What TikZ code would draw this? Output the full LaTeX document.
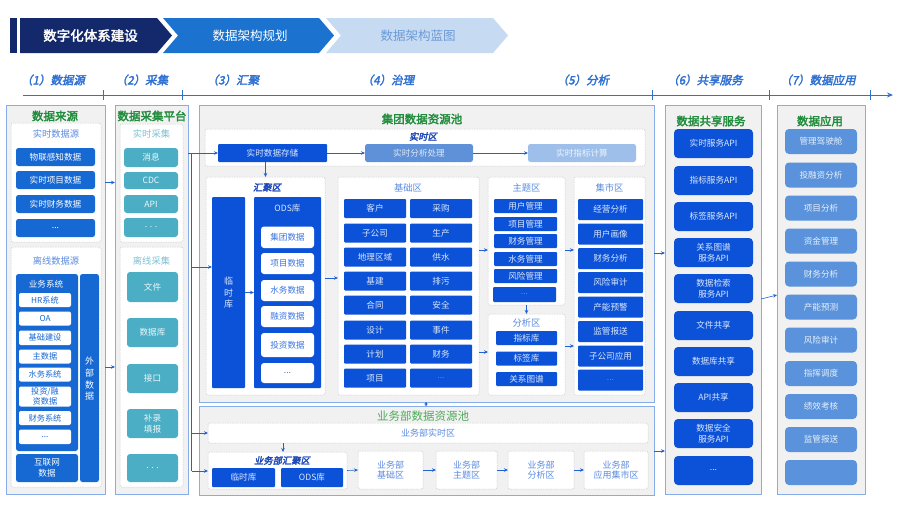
\documentclass[tikz,border=0pt]{standalone}
\usepackage{fontspec}
\setmainfont{Noto Sans CJK SC}[AutoFakeBold=2.5,AutoFakeSlant=0.2]
\usetikzlibrary{arrows.meta,calc}
\definecolor{navy}{HTML}{13296C}
\definecolor{midb}{HTML}{1B73CF}
\definecolor{lightchev}{HTML}{C6DAF2}
\definecolor{lightchevtext}{HTML}{6A9AD8}
\definecolor{axisb}{HTML}{2F70D2}
\definecolor{pborder}{HTML}{86ADEA}
\definecolor{pfill}{HTML}{F1F1F1}
\definecolor{zoneb}{HTML}{CCCCCC}
\definecolor{gtitle}{HTML}{1F8C3B}
\definecolor{gtitlelight}{HTML}{4DAA5A}
\definecolor{ztitle}{HTML}{5B8BE0}
\definecolor{tztitle}{HTML}{7EC0D3}
\definecolor{srcb}{HTML}{1668D2}
\definecolor{tealb}{HTML}{4BAEC5}
\definecolor{vivb}{HTML}{0B52D8}
\definecolor{appb}{HTML}{5A93DB}
\definecolor{anab}{HTML}{5E91D8}
\definecolor{idxb}{HTML}{9DBFE9}
\definecolor{boxtext}{HTML}{DDE7FA}
\definecolor{arrowb}{HTML}{2161D4}
\definecolor{ittitle}{HTML}{1E48B8}
\definecolor{odstext}{HTML}{3B74E0}
\newcommand\dotz{...}
\newcommand\fdotz{\textcolor{ztitle}{...}}
\tikzset{
  base/.style={inner sep=0pt, outer sep=0pt, align=center},
  itemfont/.style={font=\fontsize{8.6}{10.5}\selectfont},
  panel/.style={base, draw=pborder, fill=pfill, line width=0.9pt},
  zone/.style={base, draw=zoneb, dash pattern=on 1.5pt off 1pt, fill=white, rounded corners=2pt, line width=0.5pt},
  zonetext/.style={zone, text=ztitle, font=\fontsize{9}{10.5}\selectfont},
  srcbox/.style={base, fill=srcb, rounded corners=2.5pt, text=white, itemfont},
  whitebox/.style={base, fill=white, rounded corners=2pt, text=srcb, font=\fontsize{8.2}{9.5}\selectfont},
  odsbox/.style={base, fill=white, rounded corners=3pt, text=odstext, itemfont},
  tealbox/.style={base, fill=tealb, rounded corners=3pt, text=white!90!tealb, itemfont},
  vivbox/.style={base, fill=vivb, rounded corners=1pt, text=boxtext, itemfont},
  vivround/.style={base, fill=vivb, rounded corners=4pt, text=boxtext, itemfont},
  anabox/.style={base, fill=anab, rounded corners=2.5pt, text=white!80!anab, itemfont},
  idxbox/.style={base, fill=idxb, rounded corners=2.5pt, text=white!85!idxb, itemfont},
  appbox/.style={base, fill=appb, rounded corners=4pt, text=white!85!appb, itemfont},
  gt/.style={inner sep=0pt, font=\fontsize{11.5}{13}\selectfont\bfseries, text=gtitle},
  zt/.style={inner sep=0pt, font=\fontsize{9.3}{11}\selectfont, text=ztitle},
  tzt/.style={inner sep=0pt, font=\fontsize{9.3}{11}\selectfont, text=tztitle},
  bit/.style={inner sep=0pt, font=\fontsize{9.3}{11}\selectfont\bfseries\itshape, text=ittitle},
  hdr/.style={inner sep=0pt, font=\fontsize{11.5}{13}\selectfont\bfseries\itshape, text=axisb},
  arr/.style={draw=arrowb, line width=0.6pt, -{Stealth[length=4pt,width=3.5pt]}},
  ln/.style={draw=arrowb, line width=0.6pt},
}
\newcommand\bx[7]{\node[#2, minimum width={(#5)-(#3)}, minimum height={(#6)-(#4)}] (#1) at ({((#3)+(#5))/2},{((#4)+(#6))/2}) {#7};}
\begin{document}
\begin{tikzpicture}[x=1pt,y=-1pt]
\useasboundingbox (0,0) rectangle (900,506);
\fill[white] (0,0) rectangle (900,506);

% ---------------- banner ----------------
\fill[navy] (10,18) rectangle (17,53);
\fill[navy] (20,18) -- (157,18) -- (172,35.5) -- (157,53) -- (20,53) -- cycle;
\fill[midb] (163,18) -- (319,18) -- (334,35.5) -- (319,53) -- (163,53) -- (178,35.5) -- cycle;
\fill[lightchev] (326,18) -- (493,18) -- (508,35.5) -- (493,53) -- (326,53) -- (341,35.5) -- cycle;
\node[inner sep=0pt, font=\fontsize{13.5}{15}\selectfont\bfseries, text=white] (ban1) at (90.5,35.5) {数字化体系建设};
\node[inner sep=0pt, font=\fontsize{12.5}{14}\selectfont, text=white] (ban2) at (250,35.5) {数据架构规划};
\node[inner sep=0pt, font=\fontsize{12.5}{14}\selectfont, text=lightchevtext] (ban3) at (418,35.5) {数据架构蓝图};

% ---------------- header axis ----------------
\node[hdr] (h1) at (53,80) {（1）数据源};
\node[hdr] (h2) at (142,80) {（2）采集};
\node[hdr] (h3) at (233,80) {（3）汇聚};
\node[hdr] (h4) at (388,80) {（4）治理};
\node[hdr] (h5) at (583,80) {（5）分析};
\node[hdr] (h6) at (705,80) {（6）共享服务};
\node[hdr] (h7) at (818,80) {（7）数据应用};
\coordinate (axA) at (23,95);
\coordinate (axB) at (893,95);
\draw[draw=axisb, line width=0.9pt, -{Stealth[length=6pt,width=5pt]}] (axA) -- (axB);
\foreach \tx in {103,182,652,769,870} {\draw[draw=axisb, line width=0.7pt] (\tx,90) -- (\tx,100);}

% ---------------- panel 1 ----------------
\bx{p1}{panel}{6}{105}{105}{494}{}
\node[gt] (p1t) at (55,116) {数据来源};
\bx{rtz}{zone}{11}{123}{101}{242}{}
\node[zt] (rtzt) at (56,134) {实时数据源};
\bx{s1}{srcbox}{16}{148}{95}{166}{物联感知数据}
\bx{s2}{srcbox}{16}{171}{95}{189}{实时项目数据}
\bx{s3}{srcbox}{16}{195}{95}{213}{实时财务数据}
\bx{s4}{srcbox}{16}{219}{95}{237}{\dotz}
\bx{ofz}{zone}{11}{247}{101}{487}{}
\node[zt] (ofzt) at (56,261) {离线数据源};
\bx{biz}{srcbox}{16}{274}{78}{451}{}
\node[inner sep=0pt, itemfont, text=white] (bizt) at (46,284) {业务系统};
\bx{w1}{whitebox}{19}{293}{71}{307}{HR系统}
\bx{w2}{whitebox}{19}{311.5}{71}{325.5}{OA}
\bx{w3}{whitebox}{19}{330.5}{71}{345}{基础建设}
\bx{w4}{whitebox}{19}{349.5}{71}{363.5}{主数据}
\bx{w5}{whitebox}{19}{367.5}{71}{381.5}{水务系统}
\bx{w6}{whitebox}{19}{386.5}{71}{406.5}{投资/融\\资数据}
\bx{w7}{whitebox}{19}{411}{71}{425}{财务系统}
\bx{w8}{whitebox}{19}{429.5}{71}{444}{\dotz}
\bx{inet}{srcbox}{16}{454}{78}{482}{互联网\\数据}
\bx{ext}{srcbox}{80}{274}{99}{482}{}
\node[inner sep=0pt, font=\fontsize{9}{11.7}\selectfont, text=white, align=center] (extt) at (89.5,379) {外\\部\\数\\据};

% ---------------- panel 2 ----------------
\bx{p2}{panel}{115}{105}{188}{494}{}
\node[gt] (p2t) at (152,116) {数据采集平台};
\bx{rtc}{zone}{120}{124}{183}{242}{}
\node[tzt] (rtct) at (151.5,134) {实时采集};
\bx{c1}{tealbox}{124}{148}{178}{167}{消息}
\bx{c2}{tealbox}{124}{172}{178}{189}{CDC}
\bx{c3}{tealbox}{124}{195}{178}{213}{API}
\bx{c4}{tealbox}{124}{218}{178}{237}{. . .}
\bx{ofc}{zone}{120}{247}{183}{487}{}
\node[tzt] (ofct) at (151.5,261) {离线采集};
\bx{f1}{tealbox}{127}{272}{178}{302}{文件}
\bx{f2}{tealbox}{127}{318}{178}{347}{数据库}
\bx{f3}{tealbox}{127}{364}{178}{393}{接口}
\bx{f4}{tealbox}{127}{409}{178}{438}{补录\\填报}
\bx{f5}{tealbox}{127}{454}{178}{482}{. . .}

% ---------------- panel 3 ----------------
\bx{p3}{panel}{199}{105}{654}{402}{}
\node[gt] (p3t) at (422,119) {集团数据资源池};
\bx{rtq}{zone}{205}{129}{645}{166}{}
\node[bit] (rtqt) at (423,136.5) {实时区};
\bx{rtstore}{vivbox}{218}{144}{327}{162}{实时数据存储}
\bx{rtana}{anabox}{365}{144}{473}{162}{实时分析处理}
\bx{rtidx}{idxbox}{528}{144}{636}{162}{实时指标计算}

\bx{hz}{zone}{206}{177}{325}{395}{}
\node[bit] (hzt) at (267,187.5) {汇聚区};
\bx{tmp}{vivbox}{212}{197}{245}{388}{}
\node[inner sep=0pt, font=\fontsize{9}{11.5}\selectfont, text=boxtext, align=center] (tmpt) at (228.5,293) {临\\时\\库};
\bx{ods}{vivbox}{254}{197}{321}{388}{}
\node[inner sep=0pt, itemfont, text=boxtext] (odst) at (287.5,208) {ODS库};
\bx{o1}{odsbox}{261}{226.5}{314}{248}{集团数据}
\bx{o2}{odsbox}{261}{253}{314}{274}{项目数据}
\bx{o3}{odsbox}{261}{280}{314}{301}{水务数据}
\bx{o4}{odsbox}{261}{306}{314}{327}{融资数据}
\bx{o5}{odsbox}{261}{333}{314}{357}{投资数据}
\bx{o6}{odsbox}{261}{363}{314}{383}{\dotz}

\bx{jc}{zone}{338}{177}{479}{395}{}
\node[zt] (jct) at (408,187.5) {基础区};
\foreach \cy/\a/\b [count=\i] in {208.5/客户/采购, 233/子公司/生产, 257/地理区域/供水, 281/基建/排污, 305/合同/安全, 330/设计/事件, 354/计划/财务, 378/项目/\fdotz} {
  \bx{ja\i}{vivbox}{344}{\cy-9.5}{406}{\cy+9.5}{\a}
  \bx{jb\i}{vivbox}{410}{\cy-9.5}{472}{\cy+9.5}{\b}
}

\bx{zt}{zone}{488}{177}{565}{305}{}
\node[zt] (ztt) at (526.5,187.5) {主题区};
\foreach \ty/\s [count=\i] in {199/用户管理, 217/项目管理, 234/财务管理, 252/水务管理, 269/风险管理} {
  \bx{zi\i}{vivbox}{494}{\ty}{557}{\ty+14}{\s}
}
\bx{zi6}{vivbox}{493}{287}{556}{302}{\fdotz}

\bx{fx}{zone}{488}{314}{565}{395}{}
\node[zt] (fxt) at (526.5,322.5) {分析区};
\bx{fi1}{vivbox}{496}{331}{557}{345}{指标库}
\bx{fi2}{vivbox}{496}{351.5}{557}{365.5}{标签库}
\bx{fi3}{vivbox}{496}{372}{557}{386}{关系图谱}

\bx{js}{zone}{574}{177}{645}{395}{}
\node[zt] (jst) at (609.5,187.5) {集市区};
\foreach \ty/\s [count=\i] in {199/经营分析, 223.5/用户画像, 248/财务分析, 272/风险审计, 296.5/产能预警, 321/监管报送, 345.5/子公司应用, 369.5/\fdotz} {
  \bx{ji\i}{vivbox}{578}{\ty}{643}{\ty+21}{\s}
}

% ---------------- panel 4 ----------------
\bx{p4}{panel}{199}{406}{654}{495}{}
\node[inner sep=0pt, font=\fontsize{11.5}{13}\selectfont, text=gtitlelight] (p4t) at (423,416) {业务部数据资源池};
\bx{bzrt}{zonetext}{208}{423}{648}{443}{业务部实时区}
\bx{bhz}{zone}{208}{452}{347}{489}{}
\node[bit] (bhzt) at (282,460.5) {业务部汇聚区};
\bx{btmp}{vivbox}{212}{468}{275}{487}{临时库}
\bx{bods}{vivbox}{281}{468}{343}{487}{ODS库}
\bx{b1}{zonetext}{358}{451}{423}{489}{业务部\\基础区}
\bx{b2}{zonetext}{436}{451}{497}{489}{业务部\\主题区}
\bx{b3}{zonetext}{508}{451}{574}{489}{业务部\\分析区}
\bx{b4}{zonetext}{584}{451}{648}{489}{业务部\\应用集市区}

% ---------------- panel 5 ----------------
\bx{p5}{panel}{665}{105}{761}{494}{}
\node[gt] (p5t) at (711,121) {数据共享服务};
\foreach \ty/\s [count=\i] in {129/实时服务API, 166/指标服务API, 202/标签服务API, 238/关系图谱\\服务API, 274/数据检索\\服务API, 311/文件共享, 347/数据库共享, 383/API共享, 419/数据安全\\服务API, 456/\dotz} {
  \bx{ss\i}{vivround}{674}{\ty}{753}{\ty+29}{\s}
}

% ---------------- panel 6 ----------------
\bx{p6}{panel}{777}{105}{865}{494}{}
\node[gt] (p6t) at (820,121) {数据应用};
\foreach \ty/\s [count=\i] in {129/管理驾驶舱, 162.5/投融资分析, 195.5/项目分析, 228.5/资金管理, 261.5/财务分析, 294.5/产能预测, 327.5/风险审计, 361/指挥调度, 394/绩效考核, 427/监管报送, 460/{}} {
  \bx{ap\i}{appbox}{785}{\ty}{857}{\ty+25}{\s}
}

% ---------------- connectors ----------------
\draw[arr] (rtz.east -| p1.east) -- (rtz.east -| p2.west);
\draw[arr] (ofz.east -| p1.east) -- (ofz.east -| p2.west);

\coordinate (busT) at (191.5,153);
\coordinate (busM) at (191.5,267);
\coordinate (busB) at (191.5,471);
\draw[arr] (p2.east |- rtstore.west) -- (rtstore.west);
\draw[ln] (busT) -- (busB);
\draw[arr] (busM) -- (busM -| tmp.west);
\draw[arr] (busT |- bzrt.west) -- (bzrt.west);
\draw[arr] (busB) -- (busB -| bhz.west);

\draw[arr] (rtstore.east) -- (rtana.west);
\draw[arr] (rtana.east) -- (rtidx.west);
\draw[arr] (hz.north |- rtstore.south) -- (hz.north);
\draw[arr] (tmp.east) -- (ods.west);
\draw[arr] (hz.east |- 0,278) -- (jc.west |- 0,278);
\draw[arr] (jc.east |- 0,250) -- (zt.west |- 0,250);
\draw[arr] (jc.east |- 0,352) -- (fx.west |- 0,352);
\draw[arr] (zt.south) -- (fx.north);
\draw[arr] (zt.east |- 0,250) -- (js.west |- 0,250);
\draw[arr] (fx.east |- 0,346) -- (js.west |- 0,346);
\draw[arr] (p3.east |- 0,253) -- (p5.west |- 0,253);
\draw[draw=arrowb, line width=0.6pt, {Stealth[length=2pt,width=3pt]}-{Stealth[length=2pt,width=3pt]}] (p3.south -| 426,0) -- (p4.north -| 426,0);
\draw[arr] (bzrt.south -| 283,0) -- (bhz.north -| 283,0);
\draw[arr] (bhz.east) -- (b1.west);
\draw[arr] (b1.east) -- (b2.west);
\draw[arr] (b2.east) -- (b3.west);
\draw[arr] (b3.east) -- (b4.west);
\draw[arr] (p4.east |- 0,451) -- (p5.west |- 0,451);
\draw[arr] (p5.east |- 0,299) -- (p6.west |- 0,295);
\end{tikzpicture}
\end{document}
